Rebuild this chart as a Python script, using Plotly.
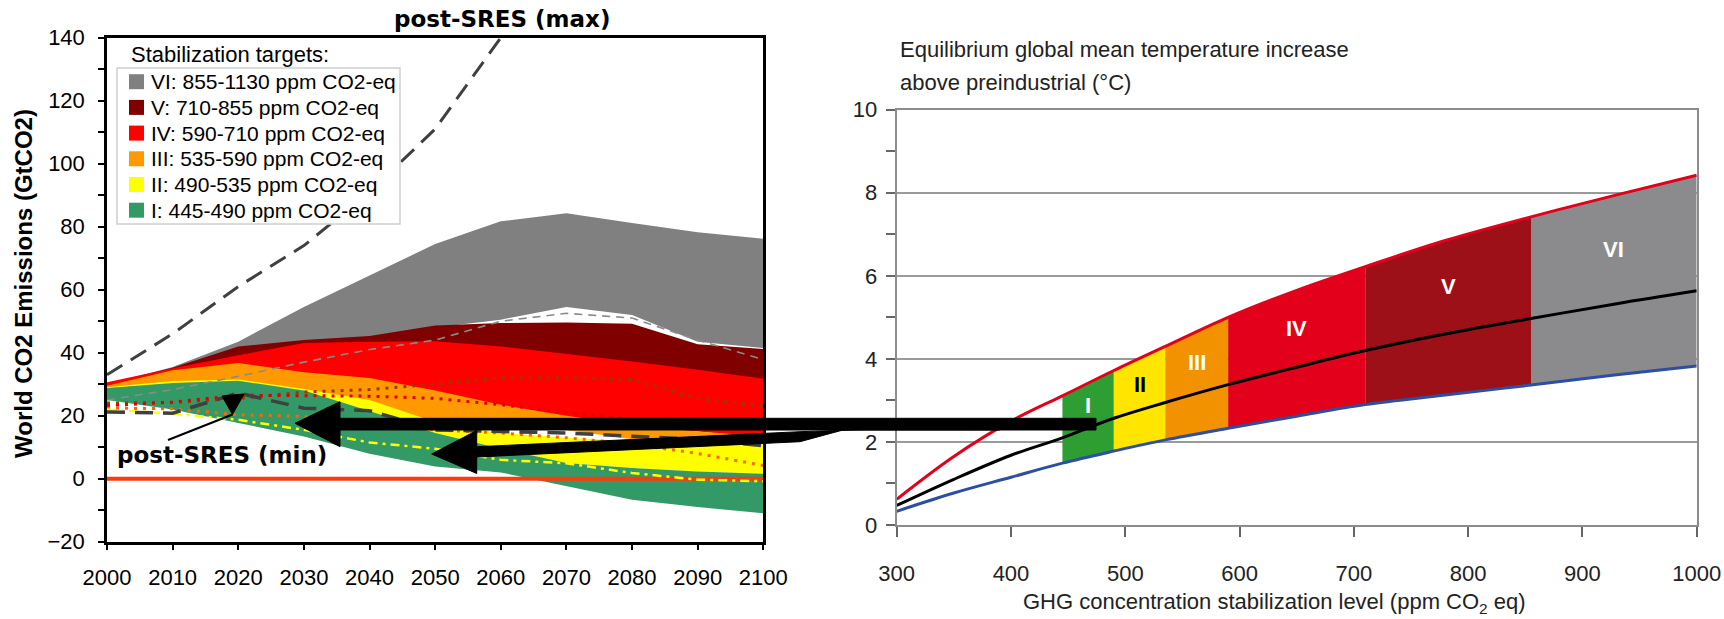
import numpy as np
import plotly.graph_objects as go

W, H = 1724, 619
FONT = "Liberation Sans, Arial, sans-serif"
WIDE = "DejaVu Sans, Verdana, sans-serif"

# ---------------- Left panel: CO2 emission pathways ----------------
years = [2000, 2010, 2020, 2030, 2040, 2050, 2060, 2070, 2080, 2090, 2100]

categories = ["VI: 855-1130 ppm CO2-eq", "V: 710-855 ppm CO2-eq", "IV: 590-710 ppm CO2-eq",
              "III: 535-590 ppm CO2-eq", "II: 490-535 ppm CO2-eq", "I: 445-490 ppm CO2-eq"]
cat_colors = ["#808080", "#800000", "#FF0000", "#FF9900", "#FFFF00", "#339966"]

vi_upper = [30, 35.5, 43.5, 54.5, 64.5, 74.5, 81.7, 84.3, 81.2, 78.2, 76.2]
vi_lower = [29, 33, 36, 40, 44, 48, 50.5, 54.5, 52, 43.5, 41.5]
v_upper = [30, 35.2, 42, 44, 45.3, 48.6, 49.4, 49.6, 49.2, 42.7, 41.2]
v_lower = [29, 32, 33, 34, 33, 32, 31, 29, 27, 25, 24]
iv_upper = [30.6, 35.1, 39.2, 43.1, 43.5, 43.6, 42.0, 39.7, 37.2, 34.6, 31.7]
iv_lower = [28, 31, 30, 28, 25, 22, 19, 17, 16, 15, 13]
iii_upper = [29.5, 34.4, 36.7, 33.8, 32, 28, 23.5, 20, 17, 15, 13.5]
iii_lower = [28, 30, 29, 26, 22, 18, 16, 15.5, 12.5, 11.5, 10.5]
ii_upper = [29, 31, 31.5, 28.5, 25, 18, 14.5, 13, 12, 11.5, 11]
ii_lower = [27, 26, 25, 22, 18, 13, 8, 5, 3.4, 2.3, 1.6]
i_upper = [28.8, 30.4, 31.1, 28, 21.5, 14.5, 9.5, 5, 3.4, 2.3, 1.6]
i_lower = [25, 22, 17.7, 13.4, 7.9, 3.9, 2.0, -2.4, -6.7, -9, -11]

sres_max_years = [2000, 2010, 2020, 2030, 2040, 2050, 2060]
sres_max = [33, 46, 61, 74, 91, 111, 140]
sres_min = [21.2, 20.8, 27.2, 22.4, 21.6, 15.5, 15, 14.5, 13.5, 12.5, 10.5]
gray_dash = [25, 28.3, 32.5, 37, 41, 44, 50, 52.5, 51, 44, 37.8]
v_median = [24, 24.2, 25.5, 27.5, 28.3, 30, 32, 32, 31.5, 25.5, 23]
iv_median = [23.2, 24.3, 26.5, 26.3, 26.2, 25.5, 23.5, 21, 19, 17, 16]
iii_median = [22.4, 22.2, 20.3, 19.8, 17.5, 15.5, 14.5, 13, 11, 8, 4.2]
ii_median = [22, 20.6, 18.7, 15.5, 11.5, 9.5, 6, 4.9, 1.8, -0.3, -0.8]
zero_line = [0, 0]
zero_years = [2000, 2100]

# ---------------- Right panel: equilibrium temperature ----------------
ppm = [300, 350, 400, 445, 490, 535, 590, 650, 710, 780, 855, 930, 1000]
t_high = [0.62, 1.65, 2.5, 3.11, 3.72, 4.3, 5.0, 5.65, 6.22, 6.85, 7.42, 7.95, 8.42]
t_best = [0.47, 1.1, 1.68, 2.1, 2.57, 2.95, 3.38, 3.8, 4.2, 4.6, 4.97, 5.33, 5.64]
t_low = [0.33, 0.77, 1.15, 1.49, 1.78, 2.05, 2.33, 2.62, 2.9, 3.13, 3.37, 3.62, 3.83]
band_edges = [445, 490, 535, 590, 710, 855, 1000]
band_names = ["I", "II", "III", "IV", "V", "VI"]
band_colors = ["#2E9E33", "#FFE500", "#F39200", "#E3001B", "#9D1018", "#8B8B8D"]
band_text_colors = ["white", "black", "white", "white", "white", "white"]


def px(x):
    return x / W


def py(y):
    return 1 - y / H


fig = go.Figure()

# left bands (drawn back to front)
left_bands = [(vi_lower, vi_upper), (v_lower, v_upper), (iv_lower, iv_upper),
              (iii_lower, iii_upper), (ii_lower, ii_upper), (i_lower, i_upper)]
for (lo, up), col in zip(left_bands, cat_colors):
    fig.add_trace(go.Scatter(x=years, y=lo, mode="lines", line=dict(width=0),
                             showlegend=False, hoverinfo="skip"))
    fig.add_trace(go.Scatter(x=years, y=up, mode="lines", line=dict(width=0),
                             fill="tonexty", fillcolor=col, showlegend=False, hoverinfo="skip"))

fig.add_trace(go.Scatter(x=zero_years, y=zero_line, mode="lines",
                         line=dict(color="#FF3A0A", width=4), showlegend=False))
fig.add_trace(go.Scatter(x=years, y=gray_dash, mode="lines",
                         line=dict(color="#8A8A8A", width=1.6, dash="8px,6px"), showlegend=False))
fig.add_trace(go.Scatter(x=years, y=v_median, mode="lines",
                         line=dict(color="#9A3A00", width=3, dash="3px,6px"), showlegend=False))
fig.add_trace(go.Scatter(x=years, y=iv_median, mode="lines",
                         line=dict(color="#E00000", width=3, dash="3px,6px"), showlegend=False))
fig.add_trace(go.Scatter(x=years, y=iii_median, mode="lines",
                         line=dict(color="#FF6600", width=3, dash="3px,6px"), showlegend=False))
fig.add_trace(go.Scatter(x=years, y=ii_median, mode="lines",
                         line=dict(color="#FFFF00", width=2.5, dash="9px,5px,3px,5px"), showlegend=False))
fig.add_trace(go.Scatter(x=years, y=sres_min, mode="lines",
                         line=dict(color="#404040", width=3.5, dash="18px,10px"), showlegend=False))
fig.add_trace(go.Scatter(x=sres_max_years, y=sres_max, mode="lines",
                         line=dict(color="#404040", width=3, dash="18px,10px"), showlegend=False))

# right bands
for k in range(len(band_names)):
    i0, i1 = ppm.index(band_edges[k]), ppm.index(band_edges[k + 1])
    xs = ppm[i0:i1 + 1] + ppm[i0:i1 + 1][::-1]
    ys = t_high[i0:i1 + 1] + t_low[i0:i1 + 1][::-1]
    fig.add_trace(go.Scatter(x=xs, y=ys, xaxis="x2", yaxis="y2", mode="lines",
                             line=dict(width=0), fill="toself", fillcolor=band_colors[k],
                             showlegend=False, hoverinfo="skip"))
for ys, col in [(t_high, "#E3001B"), (t_low, "#2D4FA0"), (t_best, "#000000")]:
    fig.add_trace(go.Scatter(x=ppm, y=ys, xaxis="x2", yaxis="y2", mode="lines",
                             line=dict(color=col, width=3, shape="spline"), showlegend=False))

annotations = []
# band labels
for k, name in enumerate(band_names):
    xm = (band_edges[k] + band_edges[k + 1]) / 2
    lo = float(np.interp(xm, ppm, t_low))
    hi = float(np.interp(xm, ppm, t_high))
    annotations.append(dict(x=xm, y=lo + 0.7 * (hi - lo), xref="x2", yref="y2", text="<b>%s</b>" % name,
                            xanchor="center", yanchor="middle", showarrow=False,
                            font=dict(family=FONT, size=22, color=band_text_colors[k])))


def note(x, y, text, size, family=FONT, color="black", xanchor="center", angle=0):
    return dict(x=px(x), y=py(y), xref="paper", yref="paper", text=text, showarrow=False,
                xanchor=xanchor, yanchor="middle", textangle=angle,
                font=dict(family=family, size=size, color=color))


annotations += [
    note(502, 19, "<b>post-SRES (max)</b>", 23, WIDE),
    note(222, 455, "<b>post-SRES (min)</b>", 23, WIDE),
    note(24, 284, "<b>World CO2 Emissions (GtCO2)</b>", 24, angle=-90),
    note(129, 55, "Stabilization targets:", 22, xanchor="left"),
    note(898, 50, "Equilibrium global mean temperature increase", 22, color="#222", xanchor="left"),
    note(898, 82, "above preindustrial (°C)", 22, color="#222", xanchor="left"),
    note(1274, 603, "GHG concentration stabilization level (ppm CO<sub>2</sub> eq)", 22, color="#222"),
]

shapes = []
# legend box
shapes.append(dict(type="rect", xref="paper", yref="paper", x0=px(117), x1=px(400), y0=py(68), y1=py(224),
                   line=dict(color="#CFCFCF", width=1.5), fillcolor="white", layer="above"))
for i, (lab, col) in enumerate(zip(categories, cat_colors)):
    cy = 81.7 + i * 25.7
    shapes.append(dict(type="rect", xref="paper", yref="paper", x0=px(129), x1=px(144),
                       y0=py(cy + 7.5), y1=py(cy - 7.5), line=dict(width=0), fillcolor=col, layer="above"))
    annotations.append(note(149, cy, lab, 21, xanchor="left"))


def path(points):
    return "M " + " L ".join("%.5f,%.5f" % (px(a), py(b)) for a, b in points) + " Z"


upper_arrow = [(295, 423.3), (340, 401.7), (340, 418.3), (1096, 418.3), (1096, 430), (340, 430), (340, 446.7)]
lower_arrow = [(431.7, 454), (476.7, 430.5), (476.7, 446.7), (800, 431.7), (1000, 425), (1000, 430),
               (843, 430), (800, 441.7), (476.7, 457), (476.7, 473.5)]
pointer_head = [(222, 396), (244, 394), (232.5, 414.5)]
for pts in (upper_arrow, lower_arrow, pointer_head):
    shapes.append(dict(type="path", xref="paper", yref="paper", path=path(pts),
                       fillcolor="black", line=dict(color="black", width=1), layer="above"))
shapes.append(dict(type="line", xref="paper", yref="paper", x0=px(168), y0=py(440), x1=px(232.5), y1=py(414.5),
                   line=dict(color="black", width=2), layer="above"))

fig.update_layout(
    width=W, height=H, autosize=False, margin=dict(l=0, r=0, t=0, b=0, pad=0, autoexpand=False),
    paper_bgcolor="white", plot_bgcolor="white",
    showlegend=False,
    font=dict(family=FONT),
    xaxis=dict(domain=[px(107), px(763.3)], range=[2000, 2100], anchor="y", automargin=False,
               showline=True, linecolor="black", linewidth=2.5, mirror=True,
               ticks="outside", ticklen=6, tickwidth=2, tickcolor="black", dtick=10, tick0=2000,
               showgrid=False, zeroline=False, ticklabelstandoff=8,
               tickfont=dict(family=FONT, size=22, color="black")),
    yaxis=dict(domain=[py(541.7), py(37.7)], range=[-20, 140], anchor="x", automargin=False,
               showline=True, linecolor="black", linewidth=2.5, mirror=True,
               ticks="outside", ticklen=6, tickwidth=2, tickcolor="black", dtick=20, tick0=0,
               minor=dict(dtick=10, ticks="outside", ticklen=6, tickwidth=2, tickcolor="black", showgrid=False),
               showgrid=False, zeroline=False, ticklabelstandoff=9,
               tickfont=dict(family=FONT, size=22, color="black")),
    xaxis2=dict(domain=[px(896.7), px(1696.7)], range=[300, 1000], anchor="y2", automargin=False,
                showline=True, linecolor="#8C8C8C", linewidth=2, mirror=True,
                ticks="outside", ticklen=10, tickwidth=2, tickcolor="#666", dtick=100, tick0=300,
                showgrid=False, zeroline=False, ticklabelstandoff=18,
                tickfont=dict(family=FONT, size=22, color="#222")),
    yaxis2=dict(domain=[py(525), py(109.7)], range=[0, 10], anchor="x2", automargin=False,
                showline=True, linecolor="#8C8C8C", linewidth=2, mirror=True,
                ticks="outside", ticklen=9, tickwidth=2, tickcolor="#666", dtick=2, tick0=0,
                minor=dict(dtick=1, ticks="outside", ticklen=9, tickwidth=2, tickcolor="#666", showgrid=False),
                showgrid=True, gridcolor="#9A9A9A", gridwidth=1.5, zeroline=False, ticklabelstandoff=4,
                tickfont=dict(family=FONT, size=22, color="#222")),
    annotations=annotations,
    shapes=shapes,
)

fig.write_html("out.html")
